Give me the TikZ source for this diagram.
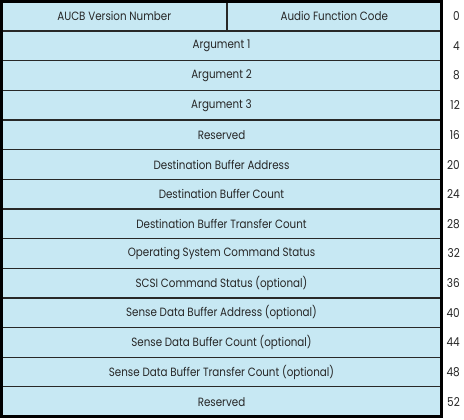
\documentclass[tikz,border=0pt]{standalone}
\usepackage{fontspec}
\setmainfont[FakeStretch=0.86]{Poppins}
\usepackage{xcolor}
\definecolor{cellblue}{RGB}{199,232,243}
\definecolor{rule}{RGB}{40,40,40}
\usepackage{tikz}

\begin{document}
\begin{tikzpicture}[x=1pt, y=-1pt,
  cell/.style={draw=rule, fill=cellblue, line width=1.3pt, inner sep=0pt, outer sep=0pt,
    minimum height=29.64pt, font=\fontsize{12}{13}\selectfont, text=black!85},
  row/.style={cell, minimum width=440pt},
  offset/.style={anchor=east, inner sep=0pt, font=\fontsize{12.2}{13}\selectfont, text=black!85}]

  \useasboundingbox (0,0) rectangle (464,420);

  % first word, split in two
  \node[cell, minimum width=225.5pt] (version) at (114.25,16.32) {AUCB Version Number};
  \node[cell, minimum width=214.5pt] (function) at (334.25,16.32) {Audio Function Code};

  % the remaining words
  \node[row] (arg1) at (221.5,45.96) {Argument 1};
  \node[row] (arg2) at (221.5,75.60) {Argument 2};
  \node[row] (arg3) at (221.5,105.24) {Argument 3};
  \node[row] (res1) at (221.5,134.88) {Reserved};
  \node[row] (dbaddr) at (221.5,164.52) {Destination Buffer Address};
  \node[row] (dbcount) at (221.5,194.16) {Destination Buffer Count};
  \node[row] (dbxfer) at (221.5,223.80) {Destination Buffer Transfer Count};
  \node[row] (osstat) at (221.5,253.44) {Operating System Command Status};
  \node[row] (scsistat) at (221.5,283.08) {SCSI Command Status (optional)};
  \node[row] (sdaddr) at (221.5,312.72) {Sense Data Buffer Address (optional)};
  \node[row] (sdcount) at (221.5,342.36) {Sense Data Buffer Count (optional)};
  \node[row] (sdxfer) at (221.5,372.00) {Sense Data Buffer Transfer Count (optional)};
  \node[row] (res2) at (221.5,401.64) {Reserved};

  % outer frame
  \draw[black, line width=2.6pt] (version.north west) rectangle (res2.south east);

  % byte offsets
  \node[offset] (o0) at (460,16.32) {0};
  \node[offset] (o4) at (460,45.96) {4};
  \node[offset] (o8) at (460,75.60) {8};
  \node[offset] (o12) at (460,105.24) {12};
  \node[offset] (o16) at (460,134.88) {16};
  \node[offset] (o20) at (460,164.52) {20};
  \node[offset] (o24) at (460,194.16) {24};
  \node[offset] (o28) at (460,223.80) {28};
  \node[offset] (o32) at (460,253.44) {32};
  \node[offset] (o36) at (460,283.08) {36};
  \node[offset] (o40) at (460,312.72) {40};
  \node[offset] (o44) at (460,342.36) {44};
  \node[offset] (o48) at (460,372.00) {48};
  \node[offset] (o52) at (460,401.64) {52};

\end{tikzpicture}
\end{document}
